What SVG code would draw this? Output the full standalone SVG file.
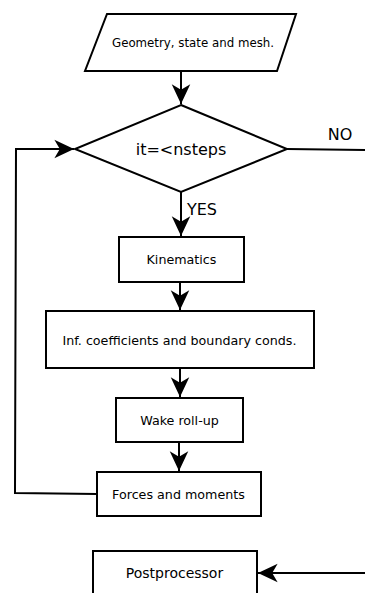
<svg xmlns="http://www.w3.org/2000/svg" width="365" height="593" viewBox="0 0 365 593">
<style>
.box{fill:#fff;stroke:#000;stroke-width:2}
.ln{fill:none;stroke:#000;stroke-width:2}
text{font-family:"DejaVu Sans",sans-serif;fill:#000;text-anchor:middle}
.s{font-size:11.8px}
.m{font-size:12.7px}
.l{font-size:16px}
</style>
<defs>
<marker id="ah" markerUnits="userSpaceOnUse" markerWidth="24" markerHeight="24" viewBox="-20 -10 22 20" refX="0" refY="0" orient="auto">
<path d="M0,0 L-18,-8.5 L-13,0 L-18,8.5 Z" fill="#000"/>
</marker>
</defs>
<g id="connectors">
<path class="ln" d="M181,71 V104" marker-end="url(#ah)"/>
<path class="ln" d="M181,192 V236" marker-end="url(#ah)"/>
<path class="ln" d="M180,282 V310" marker-end="url(#ah)"/>
<path class="ln" d="M180,368 V397" marker-end="url(#ah)"/>
<path class="ln" d="M179,442 V471" marker-end="url(#ah)"/>
<path class="ln" d="M97,494 L15,493 L16,149 H74" marker-end="url(#ah)"/>
<path class="ln" d="M287,149 L365,150"/>
<path class="ln" d="M365,573 H258" marker-end="url(#ah)"/>
<text class="l" x="202" y="215">YES</text>
<text class="l" x="340" y="140">NO</text>
</g>
<g id="input">
<polygon class="box" points="107,14 296,14 277,71 85,71"/>
<text class="s" x="193" y="47">Geometry, state and mesh.</text>
</g>
<g id="decision">
<polygon class="box" points="181,105 287,149 181,192 75,149"/>
<text class="l" x="181" y="155">it=&lt;nsteps</text>
</g>
<g id="kinematics">
<rect class="box" x="119" y="237" width="125" height="45"/>
<text class="m" x="181.5" y="264">Kinematics</text>
</g>
<g id="infcoeff">
<rect class="box" x="46" y="311" width="268" height="57"/>
<text class="m" x="179.5" y="345">Inf. coefficients and boundary conds.</text>
</g>
<g id="wake">
<rect class="box" x="116" y="398" width="127" height="44"/>
<text class="m" x="179.5" y="425">Wake roll-up</text>
</g>
<g id="forces">
<rect class="box" x="97" y="472" width="164" height="44"/>
<text class="m" x="178.5" y="499">Forces and moments</text>
</g>
<g id="postprocessor">
<rect class="box" x="93" y="551" width="164" height="60"/>
<text x="174.5" y="578" style="font-size:14px">Postprocessor</text>
</g>
</svg>
